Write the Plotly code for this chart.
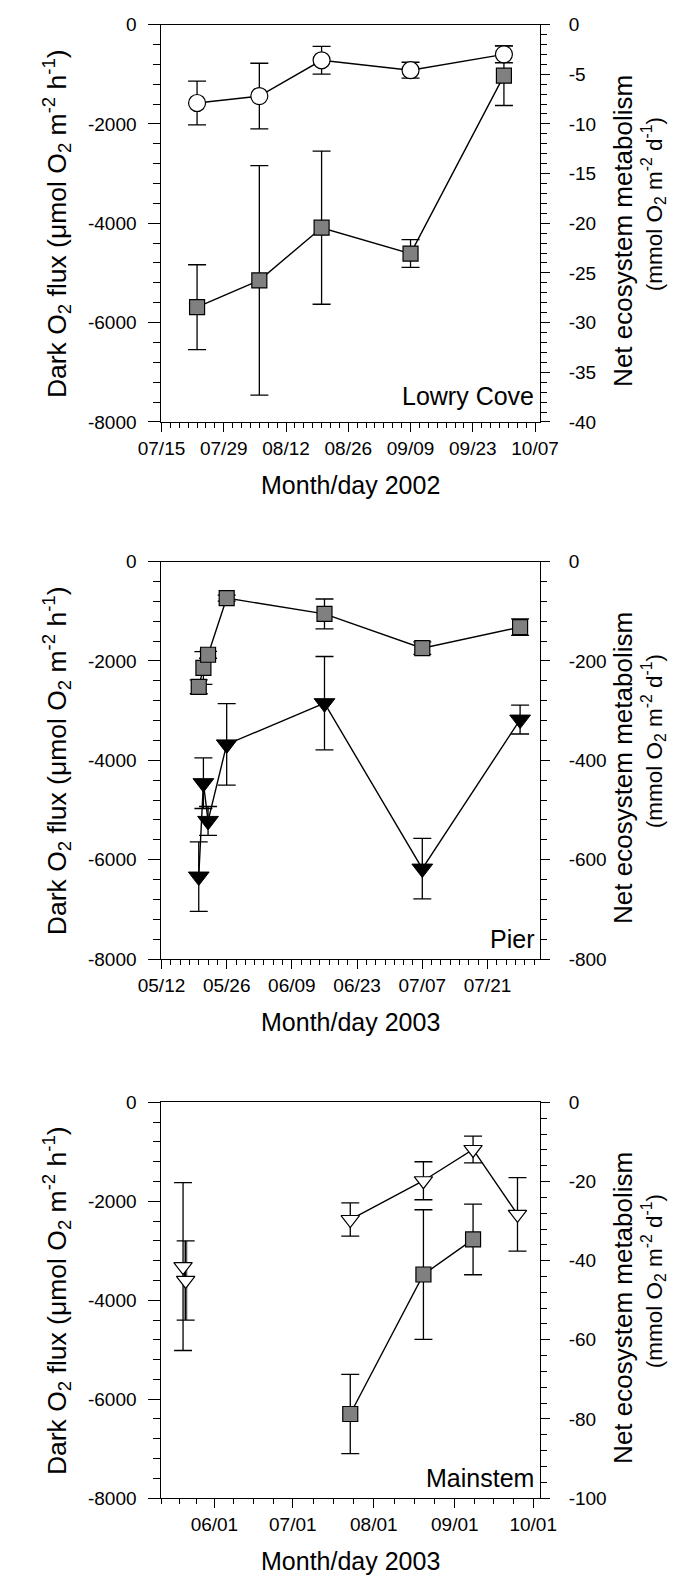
import plotly.graph_objects as go

# ---------------- data ----------------
# Panel 1: Lowry Cove 2002
lc_dates = ['2002-07-23', '2002-08-06', '2002-08-20', '2002-09-09', '2002-09-30']
lc_dark = [-5690, -5150, -4090, -4610, -1030]          # squares, left axis
lc_dark_err = [855, 2310, 1540, 280, 600]
lc_nem = [-7.9, -7.2, -3.6, -4.6, -3.0]                # circles, right axis
lc_nem_err = [2.2, 3.3, 1.4, 0.8, 0.85]

# Panel 2: Pier 2003
pier_dates = ['2003-05-20', '2003-05-21', '2003-05-22', '2003-05-26',
              '2003-06-16', '2003-07-07', '2003-07-28']
pier_dark = [-2520, -2140, -1875, -735, -1053, -1742, -1318]   # squares, left
pier_dark_err = [140, 330, 70, 60, 300, 125, 165]
pier_nem = [-634, -446, -522, -368, -285, -618, -318]           # black triangles, right
pier_nem_err = [70, 51, 29, 82, 94, 61, 29]

# Panel 3: Mainstem 2003
ms_sq_dates = ['2003-07-23', '2003-08-20', '2003-09-08']
ms_dark = [-6300, -3480, -2770]                                 # squares, left
ms_dark_err = [800, 1310, 715]
ms_tri_dates = ['2003-05-20', '2003-05-21', '2003-07-23', '2003-08-20',
                '2003-09-08', '2003-09-25']
ms_nem = [-41.5, -45.0, -29.6, -19.8, -11.9, -28.3]             # open triangles, right
ms_nem_err = [21.2, 10.0, 4.2, 4.8, 3.4, 9.3]

# ticks
left_tickvals = [0, -2000, -4000, -6000, -8000]
left_ticktext = ['0', '-2000', '-4000', '-6000', '-8000']
lc_r_tickvals = [0, -5, -10, -15, -20, -25, -30, -35, -40]
lc_r_ticktext = ['0', '-5', '-10', '-15', '-20', '-25', '-30', '-35', '-40']
pier_r_tickvals = [0, -200, -400, -600, -800]
pier_r_ticktext = ['0', '-200', '-400', '-600', '-800']
ms_r_tickvals = [0, -20, -40, -60, -80, -100]
ms_r_ticktext = ['0', '-20', '-40', '-60', '-80', '-100']

lc_x_ticks = ['2002-07-15', '2002-07-29', '2002-08-12', '2002-08-26',
              '2002-09-09', '2002-09-23', '2002-10-07']
lc_x_labels = ['07/15', '07/29', '08/12', '08/26', '09/09', '09/23', '10/07']
pier_x_ticks = ['2003-05-12', '2003-05-26', '2003-06-09', '2003-06-23',
                '2003-07-07', '2003-07-21']
pier_x_labels = ['05/12', '05/26', '06/09', '06/23', '07/07', '07/21']
ms_x_ticks = ['2003-06-01', '2003-07-01', '2003-08-01', '2003-09-01', '2003-10-01']
ms_x_labels = ['06/01', '07/01', '08/01', '09/01', '10/01']
ms_x_minor = ['2003-05-11 18:00', '2003-05-18 12:00', '2003-05-25 06:00',
              '2003-06-08 12:00', '2003-06-16 00:00', '2003-06-23 12:00',
              '2003-07-08 18:00', '2003-07-16 12:00', '2003-07-24 06:00',
              '2003-08-08 18:00', '2003-08-16 12:00', '2003-08-24 06:00',
              '2003-09-08 12:00', '2003-09-16 00:00', '2003-09-23 12:00']

site_names = ['Lowry Cove', 'Pier', 'Mainstem']
x_titles = ['Month/day 2002', 'Month/day 2003', 'Month/day 2003']

# ---------------- layout geometry (pixels) ----------------
W, H = 699, 1591
PX_L, PX_R = 146.5, 549.5
panels = [(14.7, 417.5), (559.0, 961.7), (1107.0, 1508.0)]
FONT = 'Arial, Liberation Sans, sans-serif'


def fx(x):
    return x / W


def fy(y):
    return 1 - y / H


fig = go.Figure()

sq_marker = dict(symbol='square', size=15, color='#808080',
                 line=dict(color='black', width=1.2))
err_style = dict(type='data', color='black', thickness=1.3, width=9, visible=True)
line_style = dict(color='black', width=1.4)

# Panel 1
fig.add_trace(go.Scatter(x=lc_dates, y=lc_dark, mode='lines+markers',
                         line=line_style, marker=sq_marker,
                         error_y=dict(array=lc_dark_err, **err_style),
                         xaxis='x', yaxis='y'))
fig.add_trace(go.Scatter(x=lc_dates, y=lc_nem, mode='lines+markers',
                         line=line_style,
                         marker=dict(symbol='circle', size=17, color='white',
                                     line=dict(color='black', width=1.2)),
                         error_y=dict(array=lc_nem_err, **err_style),
                         xaxis='x', yaxis='y2'))
# Panel 2
fig.add_trace(go.Scatter(x=pier_dates, y=pier_dark, mode='lines+markers',
                         line=line_style, marker=sq_marker,
                         error_y=dict(array=pier_dark_err, **err_style),
                         xaxis='x2', yaxis='y3'))
fig.add_trace(go.Scatter(x=pier_dates, y=pier_nem, mode='lines+markers',
                         line=line_style,
                         marker=dict(symbol='triangle-down', size=18, color='black',
                                     line=dict(color='black', width=1)),
                         error_y=dict(array=pier_nem_err, **err_style),
                         xaxis='x2', yaxis='y4'))
# Panel 3
fig.add_trace(go.Scatter(x=ms_sq_dates, y=ms_dark, mode='lines+markers',
                         line=line_style, marker=sq_marker,
                         error_y=dict(array=ms_dark_err, **err_style),
                         xaxis='x3', yaxis='y5'))
# grey shadow of the second early error bar (as printed in the original)
fig.add_trace(go.Scatter(x=ms_tri_dates[1:2], y=ms_nem[1:2], mode='markers',
                         marker=dict(size=1, opacity=0),
                         error_y=dict(type='data', array=ms_nem_err[1:2], color='#808080',
                                      thickness=3.5, width=0),
                         xaxis='x3', yaxis='y6'))
tri_open = dict(symbol='triangle-down', size=16, color='white',
                line=dict(color='black', width=1.2))
fig.add_trace(go.Scatter(x=ms_tri_dates[:2], y=ms_nem[:2], mode='lines+markers',
                         line=line_style, marker=tri_open,
                         error_y=dict(array=ms_nem_err[:2], **err_style),
                         xaxis='x3', yaxis='y6'))
fig.add_trace(go.Scatter(x=ms_tri_dates[2:], y=ms_nem[2:], mode='lines+markers',
                         line=line_style, marker=tri_open,
                         error_y=dict(array=ms_nem_err[2:], **err_style),
                         xaxis='x3', yaxis='y6'))

tickfont = dict(family=FONT, size=19, color='black')
axis_common = dict(showgrid=False, zeroline=False, showline=True, linecolor='black',
                   linewidth=1.3, ticks='outside', tickcolor='black', tickwidth=1.2,
                   tickfont=tickfont)

x_ranges = [['2002-07-15', '2002-10-08 01:00'],
            ['2003-05-12', '2003-08-01 05:00'],
            ['2003-05-11 18:00', '2003-10-03 12:00']]
x_tv = [lc_x_ticks, pier_x_ticks, ms_x_ticks]
x_tt = [lc_x_labels, pier_x_labels, ms_x_labels]
x_minor = [dict(dtick=2 * 86400000, tick0='2002-07-15', ticklen=5, ticks='outside',
                tickcolor='black', tickwidth=1),
           dict(dtick=2 * 86400000, tick0='2003-05-12', ticklen=5, ticks='outside',
                tickcolor='black', tickwidth=1),
           dict(tickmode='array', tickvals=ms_x_minor, ticklen=5, ticks='outside',
                tickcolor='black', tickwidth=1)]
r_ranges = [[-40, 0], [-800, 0], [-100, 0]]
r_tv = [lc_r_tickvals, pier_r_tickvals, ms_r_tickvals]
r_tt = [lc_r_ticktext, pier_r_ticktext, ms_r_ticktext]
r_minor = [1, 40, 4]

layout = dict(width=W, height=H, margin=dict(l=0, r=0, t=0, b=0), autosize=False,
              paper_bgcolor='white', plot_bgcolor='white', showlegend=False,
              hovermode=False)
annotations = []
for i, (top, bot) in enumerate(panels):
    xn = 'xaxis' if i == 0 else f'xaxis{i + 1}'
    yl_idx = 2 * i + 1
    yr_idx = 2 * i + 2
    yl = 'yaxis' if yl_idx == 1 else f'yaxis{yl_idx}'
    yr = f'yaxis{yr_idx}'
    yl_ref = 'y' if yl_idx == 1 else f'y{yl_idx}'
    x_ref = 'x' if i == 0 else f'x{i + 1}'
    dom_y = [fy(bot), fy(top)]
    layout[xn] = dict(axis_common, type='date', domain=[fx(PX_L), fx(PX_R)],
                      anchor=yl_ref, range=x_ranges[i], tickmode='array',
                      tickvals=x_tv[i], ticktext=x_tt[i], ticklen=9, mirror=True,
                      minor=x_minor[i], ticklabelstandoff=0)
    layout[yl] = dict(axis_common, domain=dom_y, anchor=x_ref, range=[-8000, 0],
                      tickmode='array', tickvals=left_tickvals, ticktext=left_ticktext,
                      ticklen=12, ticklabelstandoff=8,
                      minor=dict(dtick=400, ticklen=7, ticks='outside',
                                 tickcolor='black', tickwidth=1))
    layout[yr] = dict(axis_common, overlaying=yl_ref, side='right', anchor=x_ref,
                      range=r_ranges[i], tickmode='array', tickvals=r_tv[i],
                      ticktext=r_tt[i], ticklen=9, ticklabelstandoff=15,
                      minor=dict(dtick=r_minor[i], ticklen=6, ticks='outside',
                                 tickcolor='black', tickwidth=1))
    mid = (top + bot) / 2
    # left title
    annotations.append(dict(xref='paper', yref='paper', x=fx(35), y=fy(mid),
                            text='Dark O<sub>2</sub> flux (\u03bcmol O<sub>2</sub> m<sup>-2</sup> h<sup>-1</sup>)',
                            textangle=-90, showarrow=False, xanchor='center',
                            yanchor='middle',
                            font=dict(family=FONT, size=26.5, color='black')))
    # right titles
    annotations.append(dict(xref='paper', yref='paper', x=fx(638), y=fy(mid + 8),
                            text='Net ecosystem metabolism', textangle=-90,
                            showarrow=False, xanchor='center', yanchor='middle',
                            font=dict(family=FONT, size=26, color='black')))
    annotations.append(dict(xref='paper', yref='paper', x=fx(671), y=fy(mid - 19),
                            text='(mmol O<sub>2</sub> m<sup>-2</sup> d<sup>-1</sup>)',
                            textangle=-90, showarrow=False, xanchor='center',
                            yanchor='middle',
                            font=dict(family=FONT, size=22.5, color='black')))
    # x title
    annotations.append(dict(xref='paper', yref='paper', x=fx((PX_L + PX_R) / 2),
                            y=fy(bot + 64), text=x_titles[i], showarrow=False,
                            xanchor='center', yanchor='middle',
                            font=dict(family=FONT, size=25, color='black')))
    # site label
    off = 26 if i == 0 else 20
    annotations.append(dict(xref='paper', yref='paper', x=fx(546), y=fy(bot - off),
                            text=site_names[i], showarrow=False, xanchor='right',
                            yanchor='middle', font=dict(family=FONT, size=25, color='black')))

layout['annotations'] = annotations
fig.update_layout(**layout)
fig.write_html('out.html')
